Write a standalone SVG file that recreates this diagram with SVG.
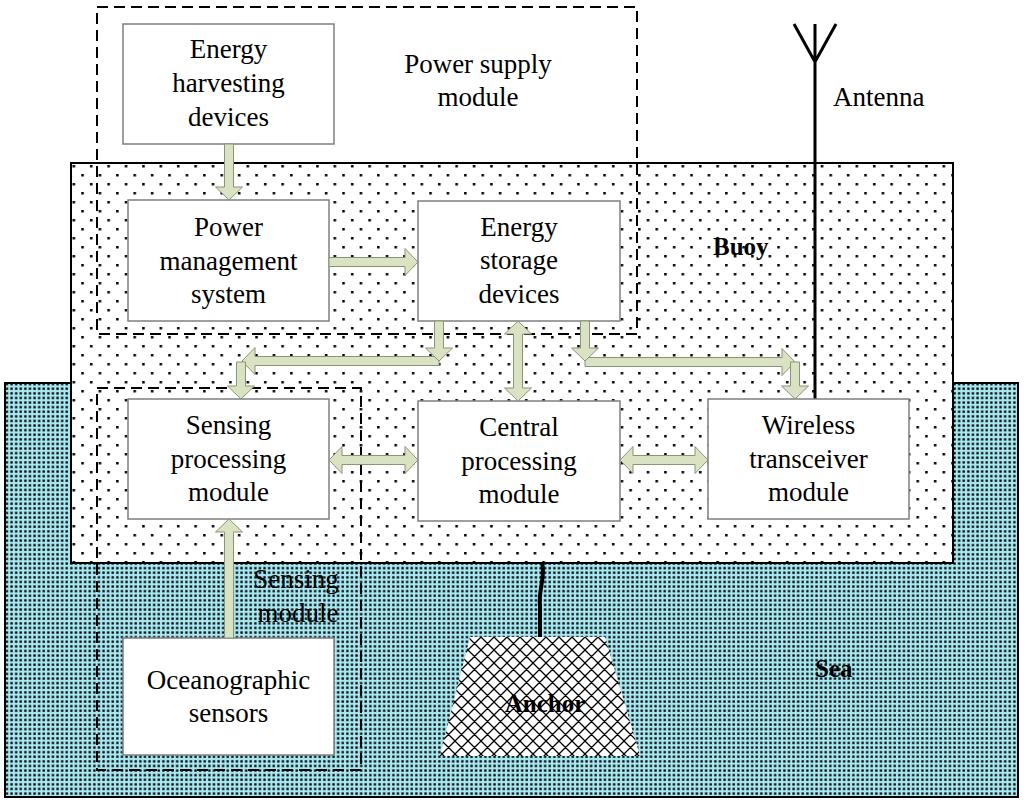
<svg xmlns="http://www.w3.org/2000/svg" width="1024" height="802" viewBox="0 0 1024 802">
<defs>
<pattern id="seaDots" patternUnits="userSpaceOnUse" width="4.6" height="4.6">
<rect width="4.6" height="4.6" fill="#a8e8f2"/>
<rect x="1.2" y="1.2" width="2.3" height="2.3" fill="#000"/>
</pattern>
<pattern id="buoyDots" patternUnits="userSpaceOnUse" width="17.4" height="18">
<rect width="17.4" height="18" fill="#fff"/>
<rect x="3" y="3" width="2.5" height="2.5" fill="#000"/>
<rect x="11.7" y="12" width="2.5" height="2.5" fill="#000"/>
</pattern>
<pattern id="hatch" patternUnits="userSpaceOnUse" width="13" height="13">
<rect width="13" height="13" fill="#fff"/>
<path d="M0,0 L13,13 M13,0 L0,13 M-1,12 L1,14 M12,-1 L14,1 M-1,1 L1,-1 M12,14 L14,12" stroke="#000" stroke-width="1.3" fill="none"/>
</pattern>
<style>
.box{fill:#fff;stroke:#7f7f7f;stroke-width:1.5}
.dash{fill:none;stroke:#000;stroke-width:2;stroke-dasharray:11 6}
.arr{fill:#d9e3c3;stroke:#8a9577;stroke-width:1}
.t{font-family:"Liberation Serif","Times New Roman",serif;font-size:27px;fill:#000;text-anchor:middle}
.tb{font-family:"Liberation Serif","Times New Roman",serif;font-size:25px;font-weight:bold;fill:#000}
</style>
</defs>

<g id="sea">
<rect x="5" y="383" width="1013" height="414" fill="url(#seaDots)" stroke="#000" stroke-width="2"/>
<text class="tb" x="815" y="677">Sea</text>
</g>

<g id="buoy">
<rect x="71" y="163" width="882" height="400" fill="url(#buoyDots)" stroke="#000" stroke-width="2"/>
<text class="tb" x="713" y="255">Buoy</text>
</g>

<g id="anchor">
<path d="M542,563 C546,576 538,590 540,606 L540,638" fill="none" stroke="#000" stroke-width="4"/>
<polygon points="470,637 605,637 640,756 440,756" fill="url(#hatch)"/>
<text class="tb" x="545" y="712" text-anchor="middle">Anchor</text>
</g>

<g id="antenna">
<path d="M815,24 L815,399 M794,24 L815,62 L836,24" fill="none" stroke="#000" stroke-width="3"/>
<text class="t" x="833" y="106" style="text-anchor:start">Antenna</text>
</g>

<g id="power-supply-module">
<rect class="dash" x="97" y="7" width="540" height="327"/>
<text class="t" x="478" y="73">Power supply</text>
<text class="t" x="478" y="106">module</text>
</g>

<g id="sensing-module">
<rect class="dash" x="97" y="388" width="264" height="382"/>
<text class="t" x="296" y="588">Sensing</text>
<text class="t" x="298" y="622">module</text>
</g>

<g id="energy-harvesting">
<rect class="box" x="123" y="24" width="211" height="120"/>
<text class="t" x="228.5" y="58">Energy</text>
<text class="t" x="228.5" y="92">harvesting</text>
<text class="t" x="228.5" y="126">devices</text>
</g>

<g id="power-management">
<rect class="box" x="128" y="200" width="201" height="121"/>
<text class="t" x="228.5" y="236">Power</text>
<text class="t" x="228.5" y="270">management</text>
<text class="t" x="228.5" y="303">system</text>
</g>

<g id="energy-storage">
<rect class="box" x="418" y="201" width="202" height="120"/>
<text class="t" x="519" y="236">Energy</text>
<text class="t" x="519" y="269">storage</text>
<text class="t" x="519" y="303">devices</text>
</g>

<g id="sensing-processing">
<rect class="box" x="128" y="399" width="201" height="120"/>
<text class="t" x="228.5" y="434">Sensing</text>
<text class="t" x="228.5" y="468">processing</text>
<text class="t" x="228.5" y="501">module</text>
</g>

<g id="central-processing">
<rect class="box" x="418" y="401" width="202" height="120"/>
<text class="t" x="519" y="436">Central</text>
<text class="t" x="519" y="470">processing</text>
<text class="t" x="519" y="503">module</text>
</g>

<g id="wireless-transceiver">
<rect class="box" x="708" y="399" width="201" height="120"/>
<text class="t" x="808.5" y="434">Wireless</text>
<text class="t" x="808.5" y="468">transceiver</text>
<text class="t" x="808.5" y="501">module</text>
</g>

<g id="oceanographic-sensors">
<rect class="box" x="123" y="638" width="211" height="117"/>
<text class="t" x="228.5" y="689">Oceanographic</text>
<text class="t" x="228.5" y="722">sensors</text>
</g>

<g id="connectors">
<polygon class="arr" points="224.5,144 233.5,144 233.5,187 242.5,187 229,200 215.5,187 224.5,187"/>
<polygon class="arr" points="329,257.5 405,257.5 405,248.5 418,262 405,275.5 405,266.5 329,266.5"/>
<polygon class="arr" points="439,356.5 255,356.5 255,347.5 242,361 255,374.5 255,365.5 439,365.5"/>
<polygon class="arr" points="434.5,321 443.5,321 443.5,348 452.5,348 439,361 425.5,348 434.5,348"/>
<polygon class="arr" points="236.5,362 245.5,362 245.5,386 254.5,386 241,399 227.5,386 236.5,386"/>
<polygon class="arr" points="518,321 531.5,334 522.5,334 522.5,388 531.5,388 518,401 504.5,388 513.5,388 513.5,334 504.5,334"/>
<polygon class="arr" points="585,357.5 782,357.5 782,348.5 795,362 782,375.5 782,366.5 585,366.5"/>
<polygon class="arr" points="580.5,321 589.5,321 589.5,348 598.5,348 585,361 571.5,348 580.5,348"/>
<polygon class="arr" points="790.5,362 799.5,362 799.5,386 808.5,386 795,399 781.5,386 790.5,386"/>
<polygon class="arr" points="329,460 342,446.5 342,455.5 405,455.5 405,446.5 418,460 405,473.5 405,464.5 342,464.5 342,473.5"/>
<polygon class="arr" points="620,460 633,446.5 633,455.5 695,455.5 695,446.5 708,460 695,473.5 695,464.5 633,464.5 633,473.5"/>
<polygon class="arr" points="224.5,638 224.5,532 215.5,532 229,519 242.5,532 233.5,532 233.5,638"/>
</g>
</svg>
